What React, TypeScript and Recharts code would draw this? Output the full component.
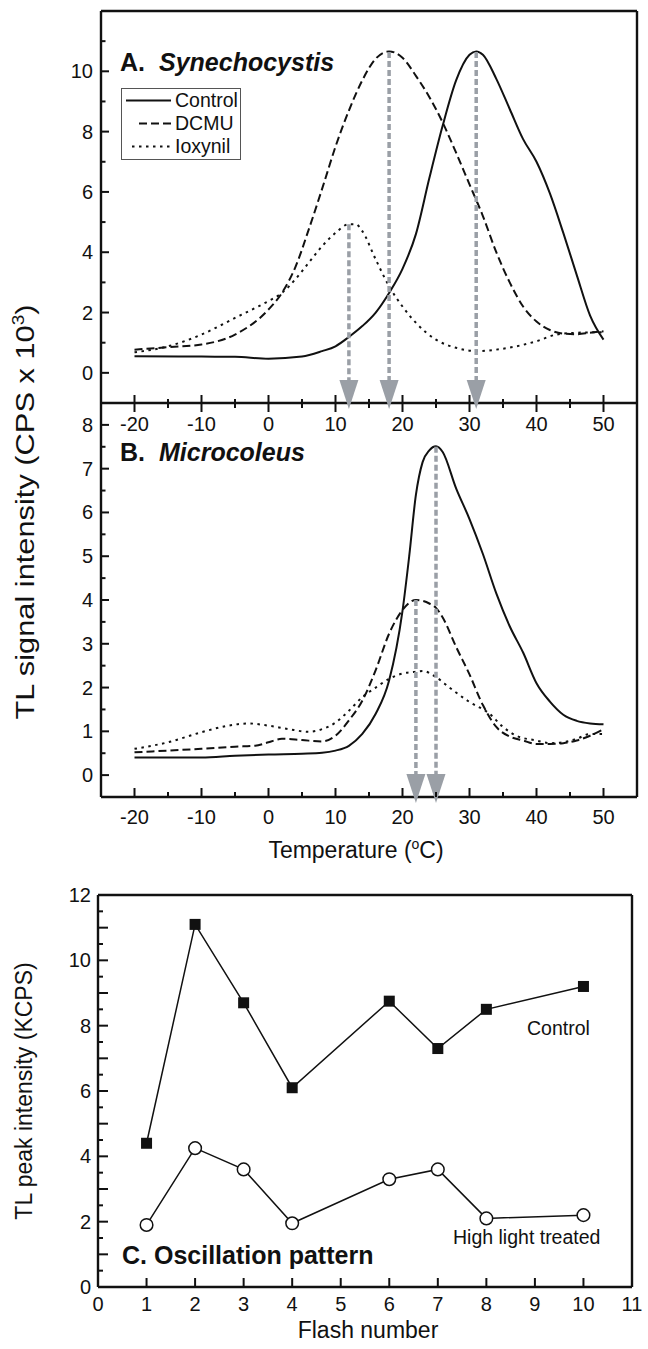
import React from 'react';
import { LineChart, Line, XAxis, YAxis, Legend, ReferenceLine, ReferenceDot } from 'recharts';

const FONT = '"Liberation Sans", Arial, Helvetica, sans-serif';
const INK = '#111';
const ARROW = '#9a9fa6';

// Panel A - Synechocystis (temperature in °C, intensity in 10^3 CPS)
const ctrlATemp = [-20, -10, -5, 0, 5, 8, 10, 12, 14, 16, 18, 20, 22, 24, 26, 28, 30, 31, 32, 34, 36, 38, 40, 42, 44, 46, 48, 50];
const ctrlAVal = [0.55, 0.54, 0.53, 0.47, 0.54, 0.72, 0.88, 1.19, 1.55, 2.0, 2.65, 3.45, 4.6, 6.45, 8.2, 9.7, 10.55, 10.66, 10.55, 9.75, 8.75, 7.75, 7.0, 5.95, 4.64, 3.25, 1.9, 1.1];
const dcmuATemp = [-20, -15, -10, -5, 0, 2, 4, 6, 8, 10, 12, 14, 16, 18, 20, 22, 24, 26, 28, 30, 32, 34, 36, 38, 40, 42, 44, 46, 48, 50];
const dcmuAVal = [0.77, 0.85, 0.94, 1.27, 2.1, 2.65, 3.5, 4.75, 6.1, 7.5, 8.7, 9.7, 10.42, 10.66, 10.45, 9.85, 9.15, 8.3, 7.3, 6.25, 5.2, 4.0, 3.0, 2.2, 1.7, 1.42, 1.3, 1.28, 1.33, 1.38];
const ioxATemp = [-20, -15, -10, -5, -2, 0, 2, 4, 6, 8, 10, 12, 13, 14, 16, 18, 20, 22, 25, 28, 31, 34, 37, 40, 43, 46, 50];
const ioxAVal = [0.68, 0.88, 1.27, 1.82, 2.15, 2.38, 2.65, 3.1, 3.65, 4.2, 4.64, 4.93, 4.93, 4.7, 3.76, 2.87, 2.2, 1.66, 1.1, 0.83, 0.72, 0.77, 0.88, 1.05, 1.27, 1.33, 1.35];
const arrowATemp = [12, 18, 31];
const arrowAPeak = [4.93, 10.64, 10.64];

// Panel B - Microcoleus
const ctrlBTemp = [-20, -10, -5, 0, 5, 8, 10, 12, 14, 16, 18, 20, 21, 22, 23, 24, 25, 26, 28, 30, 32, 34, 36, 38, 40, 42, 44, 46, 48, 50];
const ctrlBVal = [0.4, 0.4, 0.44, 0.47, 0.49, 0.51, 0.56, 0.67, 0.94, 1.4, 2.16, 3.75, 5.0, 6.4, 7.15, 7.42, 7.51, 7.38, 6.55, 5.85, 5.05, 4.15, 3.4, 2.8, 2.1, 1.68, 1.38, 1.24, 1.18, 1.16];
const dcmuBTemp = [-20, -15, -10, -5, -2, 0, 2, 5, 8, 10, 12, 14, 16, 18, 20, 22, 24, 25, 26, 28, 30, 32, 34, 36, 38, 40, 42, 44, 46, 48, 50];
const dcmuBVal = [0.52, 0.56, 0.6, 0.65, 0.67, 0.75, 0.83, 0.8, 0.77, 0.9, 1.25, 1.7, 2.4, 3.23, 3.77, 4.0, 3.92, 3.82, 3.6, 2.93, 2.3, 1.6, 1.1, 0.88, 0.79, 0.71, 0.71, 0.73, 0.79, 0.9, 1.05];
const ioxBTemp = [-20, -15, -10, -6, -3, 0, 3, 6, 8, 10, 12, 14, 16, 18, 20, 22, 23, 25, 27, 30, 33, 35, 37, 40, 42, 44, 46, 48, 50];
const ioxBVal = [0.6, 0.75, 0.98, 1.13, 1.18, 1.13, 1.05, 0.99, 1.05, 1.2, 1.47, 1.78, 2.0, 2.2, 2.32, 2.36, 2.38, 2.24, 2.0, 1.67, 1.4, 1.1, 0.9, 0.79, 0.73, 0.75, 0.83, 0.94, 0.94];
const arrowBTemp = [22, 25];
const arrowBPeak = [4.0, 7.5];

// Panel C - oscillation pattern
const flashNo = [1, 2, 3, 4, 6, 7, 8, 10];
const ctrlC = [4.4, 11.1, 8.7, 6.1, 8.75, 7.3, 8.5, 9.2];
const highLightC = [1.9, 4.25, 3.6, 1.95, 3.3, 3.6, 2.1, 2.2];

// ticks
const tempTicks = [-20, -15, -10, -5, 0, 5, 10, 15, 20, 25, 30, 35, 40, 45, 50];
const topTicksA = [-15, -5, 5, 15, 25, 35, 45];
const yTicksA = [0, 1, 2, 3, 4, 5, 6, 7, 8, 9, 10, 11];
const yTicksB = [0, 0.5, 1, 1.5, 2, 2.5, 3, 3.5, 4, 4.5, 5, 5.5, 6, 6.5, 7, 7.5, 8];
const xTicksC = [0, 1, 2, 3, 4, 5, 6, 7, 8, 9, 10, 11];
const yTicksC = [0, 0.5, 1, 1.5, 2, 2.5, 3, 3.5, 4, 4.5, 5, 5.5, 6, 6.5, 7, 7.5, 8, 8.5, 9, 9.5, 10, 10.5, 11, 11.5, 12];

const legendNames = ['Control', 'DCMU', 'Ioxynil'];
const dashOf: Record<string, string | undefined> = { Control: undefined, DCMU: '8 4', Ioxynil: '2.5 4.5' };

const zip = (t: number[], v: number[]) => t.map((x, i) => ({ t: x, v: v[i] }));

const axisStyle = { stroke: INK, strokeWidth: 2.4 };
const TICK_FONT = 20;

type TickOpts = {
  side: 'left' | 'right' | 'top' | 'bottom';
  isMajor: (v: number) => boolean;
  showLabel: (v: number) => boolean;
  major: number;
  minor: number;
  below?: [number, number];
  gap?: number;
};

const makeTick = (o: TickOpts) => (props: any) => {
  const { x, y, payload } = props;
  const v = payload.value as number;
  const major = o.isMajor(v);
  const len = major ? o.major : o.minor;
  const gap = o.gap ?? 8;
  const lineProps = { stroke: INK, strokeWidth: 2 };
  let tickLine = null;
  let label = null;
  if (o.side === 'left') {
    tickLine = <line x1={x} y1={y} x2={x + len} y2={y} {...lineProps} />;
    if (o.showLabel(v))
      label = (
        <text x={x - gap} y={y} textAnchor="end" dominantBaseline="central" fontSize={TICK_FONT} fontFamily={FONT} fill={INK}>
          {String(v)}
        </text>
      );
  } else if (o.side === 'right') {
    tickLine = <line x1={x} y1={y} x2={x - len} y2={y} {...lineProps} />;
  } else if (o.side === 'top') {
    tickLine = <line x1={x} y1={y} x2={x} y2={y + len} {...lineProps} />;
  } else {
    const down = o.below ? (major ? o.below[0] : o.below[1]) : 0;
    tickLine = <line x1={x} y1={y + down} x2={x} y2={y - len} {...lineProps} />;
    if (o.showLabel(v))
      label = (
        <text x={x} y={y + gap} textAnchor="middle" dominantBaseline="central" fontSize={TICK_FONT} fontFamily={FONT} fill={INK}>
          {String(v)}
        </text>
      );
  }
  return (
    <g>
      {tickLine}
      {label}
    </g>
  );
};

const tens = (v: number) => v % 10 === 0;
const even = (v: number) => Number.isInteger(v) && v % 2 === 0;
const whole = (v: number) => Number.isInteger(v);
const never = () => false;
const always = () => true;

const bottomTickA = makeTick({ side: 'bottom', isMajor: tens, showLabel: tens, major: 8, minor: 4, below: [9, 5], gap: 21 });
const bottomTickB = makeTick({ side: 'bottom', isMajor: tens, showLabel: tens, major: 9, minor: 5, gap: 20 });
const topTickA = makeTick({ side: 'top', isMajor: never, showLabel: never, major: 5, minor: 5 });
const leftTickA = makeTick({ side: 'left', isMajor: even, showLabel: even, major: 8, minor: 4.5 });
const rightTickA = makeTick({ side: 'right', isMajor: even, showLabel: never, major: 6, minor: 4 });
const leftTickB = makeTick({ side: 'left', isMajor: whole, showLabel: whole, major: 8, minor: 4.5 });
const rightTickB = makeTick({ side: 'right', isMajor: whole, showLabel: never, major: 6, minor: 4 });
const leftTickC = makeTick({ side: 'left', isMajor: whole, showLabel: even, major: 10, minor: 5, gap: 7 });
const rightTickC = makeTick({ side: 'right', isMajor: whole, showLabel: never, major: 6, minor: 6 });
const topTickC = makeTick({ side: 'top', isMajor: always, showLabel: never, major: 9, minor: 9 });
const bottomTickC = makeTick({ side: 'bottom', isMajor: always, showLabel: always, major: 9, minor: 9, gap: 17 });

const ArrowHead = (props: any) => {
  const { cx, cy } = props;
  return <polygon points={`${cx},${cy + 6} ${cx - 9.5},${cy - 23} ${cx + 9.5},${cy - 23}`} fill={ARROW} />;
};

const Square = (props: any) => {
  const { cx, cy, index } = props;
  return <rect key={`sq-${index}`} x={cx - 5.5} y={cy - 5.5} width={11} height={11} fill={INK} />;
};

const Circle = (props: any) => {
  const { cx, cy, index } = props;
  return <circle key={`ci-${index}`} cx={cx} cy={cy} r={6.3} fill="#fff" stroke={INK} strokeWidth={1.5} />;
};

const LegendBox = () => (
  <div
    style={{
      width: 120,
      height: 72,
      border: '1.3px solid #555',
      boxSizing: 'border-box',
      background: '#fff',
      fontFamily: FONT,
      fontSize: 19.5,
      color: INK,
    }}
  >
    {legendNames.map((name, i) => (
      <div key={name} style={{ display: 'flex', alignItems: 'center', height: 23 }}>
        <svg width={53} height={23} style={{ flex: 'none' }}>
          <line x1={[4, 17, 10][i]} x2={49} y1={11.5} y2={11.5} stroke={INK} strokeWidth={2} strokeDasharray={dashOf[name]} />
        </svg>
        <span>{name}</span>
      </div>
    ))}
  </div>
);

const curve = (name: string, t: number[], v: number[]) => (
  <Line
    key={name}
    data={zip(t, v)}
    dataKey="v"
    name={name}
    type="monotone"
    stroke={INK}
    strokeWidth={2}
    strokeDasharray={dashOf[name]}
    dot={false}
    activeDot={false}
    isAnimationActive={false}
  />
);

export default function App() {
  return (
    <div style={{ position: 'absolute', left: 0, top: 0, width: 648, height: 1349, background: '#fff', fontFamily: FONT }}>
      {/* Panel A */}
      <div style={{ position: 'absolute', left: 0, top: 0 }}>
        <LineChart width={648} height={440} margin={{ top: 1, right: 0, bottom: 0, left: 0 }}>
          <XAxis xAxisId="top" orientation="top" type="number" dataKey="t" domain={[-25, 55]} ticks={topTicksA} interval={0} height={10} axisLine={axisStyle} tickLine={false} tickSize={0} tickMargin={0} tick={topTickA} />
          <XAxis type="number" dataKey="t" domain={[-25, 55]} ticks={tempTicks} interval={0} height={37} axisLine={axisStyle} tickLine={false} tickSize={0} tickMargin={0} tick={bottomTickA} />
          <YAxis type="number" domain={[-1, 12]} ticks={yTicksA} interval={0} width={101} axisLine={axisStyle} tickLine={false} tickSize={0} tickMargin={0} tick={leftTickA} />
          <YAxis yAxisId="right" orientation="right" type="number" domain={[-1, 12]} ticks={yTicksA} interval={0} width={11} axisLine={axisStyle} tickLine={false} tickSize={0} tickMargin={0} tick={rightTickA} />
          <Legend layout="vertical" verticalAlign="middle" align="center" width={120} height={72} content={LegendBox} wrapperStyle={{ left: 121, top: 88 }} />
          {curve('Control', ctrlATemp, ctrlAVal)}
          {curve('DCMU', dcmuATemp, dcmuAVal)}
          {curve('Ioxynil', ioxATemp, ioxAVal)}
          {arrowATemp.map((t, i) => (
            <ReferenceLine key={`al-${t}`} segment={[{ x: t, y: arrowAPeak[i] }, { x: t, y: -1 }]} stroke={ARROW} strokeWidth={3.5} strokeDasharray="6 3" ifOverflow="visible" />
          ))}
          {arrowATemp.map((t) => (
            <ReferenceDot key={`ah-${t}`} x={t} y={-1} shape={ArrowHead} ifOverflow="visible" />
          ))}
        </LineChart>
      </div>

      {/* Panel B */}
      <div style={{ position: 'absolute', left: 0, top: 392 }}>
        <LineChart width={648} height={445} margin={{ top: 11, right: 0, bottom: 0, left: 0 }}>
          <XAxis type="number" dataKey="t" domain={[-25, 55]} ticks={tempTicks} interval={0} height={40} axisLine={axisStyle} tickLine={false} tickSize={0} tickMargin={0} tick={bottomTickB} />
          <YAxis type="number" domain={[-0.5, 8.5]} ticks={yTicksB} interval={0} width={101} axisLine={axisStyle} tickLine={false} tickSize={0} tickMargin={0} tick={leftTickB} />
          <YAxis yAxisId="right" orientation="right" type="number" domain={[-0.5, 8.5]} ticks={yTicksB} interval={0} width={11} axisLine={axisStyle} tickLine={false} tickSize={0} tickMargin={0} tick={rightTickB} />
          {curve('Control', ctrlBTemp, ctrlBVal)}
          {curve('DCMU', dcmuBTemp, dcmuBVal)}
          {curve('Ioxynil', ioxBTemp, ioxBVal)}
          {arrowBTemp.map((t, i) => (
            <ReferenceLine key={`bl-${t}`} segment={[{ x: t, y: arrowBPeak[i] }, { x: t, y: -0.5 }]} stroke={ARROW} strokeWidth={3.5} strokeDasharray="6 3" ifOverflow="visible" />
          ))}
          {arrowBTemp.map((t) => (
            <ReferenceDot key={`bh-${t}`} x={t} y={-0.5} shape={ArrowHead} ifOverflow="visible" />
          ))}
        </LineChart>
      </div>

      {/* Panel C */}
      <div style={{ position: 'absolute', left: 0, top: 880 }}>
        <LineChart width={648} height={469} margin={{ top: 5, right: 0, bottom: 0, left: 0 }}>
          <XAxis xAxisId="top" orientation="top" type="number" dataKey="f" domain={[0, 11]} ticks={xTicksC} interval={0} height={10} axisLine={axisStyle} tickLine={false} tickSize={0} tickMargin={0} tick={topTickC} />
          <XAxis type="number" dataKey="f" domain={[0, 11]} ticks={xTicksC} interval={0} height={62} axisLine={axisStyle} tickLine={false} tickSize={0} tickMargin={0} tick={bottomTickC} />
          <YAxis type="number" domain={[0, 12]} ticks={yTicksC} interval={0} width={98} axisLine={axisStyle} tickLine={false} tickSize={0} tickMargin={0} tick={leftTickC} />
          <YAxis yAxisId="right" orientation="right" type="number" domain={[0, 12]} ticks={yTicksC} interval={0} width={16} axisLine={axisStyle} tickLine={false} tickSize={0} tickMargin={0} tick={rightTickC} />
          <Line data={flashNo.map((f, i) => ({ f, v: ctrlC[i] }))} dataKey="v" name="Control" type="linear" stroke={INK} strokeWidth={1.5} dot={Square} activeDot={false} isAnimationActive={false} />
          <Line data={flashNo.map((f, i) => ({ f, v: highLightC[i] }))} dataKey="v" name="High light treated" type="linear" stroke={INK} strokeWidth={1.5} dot={Circle} activeDot={false} isAnimationActive={false} />
        </LineChart>
      </div>

      {/* titles and annotations */}
      <svg width={648} height={1349} style={{ position: 'absolute', left: 0, top: 0, pointerEvents: 'none' }} fontFamily={FONT} fill={INK}>
        <text x={120} y={71} fontSize={25} fontWeight="bold">
          A.<tspan dx={14} fontStyle="italic">Synechocystis</tspan>
        </text>
        <text x={120} y={461} fontSize={25} fontWeight="bold">
          B.<tspan dx={14} fontStyle="italic">Microcoleus</tspan>
        </text>
        <text x={122} y={1264} fontSize={25} fontWeight="bold">C. Oscillation pattern</text>
        <text x={527} y={1035} fontSize={19.5}>Control</text>
        <text x={453} y={1244} fontSize={19.5}>High light treated</text>
        <text transform="translate(34,512) rotate(-90)" textAnchor="middle" fontSize={26} textLength={415} lengthAdjust="spacingAndGlyphs">
          TL signal intensity (CPS x 10<tspan dy={-10} fontSize={16}>3</tspan>
          <tspan dy={10}>)</tspan>
        </text>
        <text transform="translate(32,1091) rotate(-90)" textAnchor="middle" fontSize={23}>TL peak intensity (KCPS)</text>
        <text x={356} y={858} textAnchor="middle" fontSize={23}>
          Temperature (<tspan dy={-9} fontSize={14}>o</tspan>
          <tspan dy={9}>C)</tspan>
        </text>
        <text x={368} y={1338} textAnchor="middle" fontSize={23}>Flash number</text>
      </svg>
    </div>
  );
}
